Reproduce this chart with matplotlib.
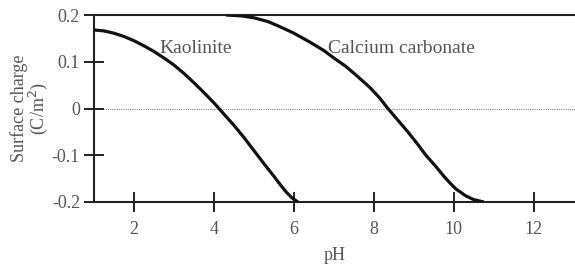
# coding=utf-8
import matplotlib
matplotlib.use('Agg')
import matplotlib.pyplot as plt

plt.rcParams['font.family'] = ['Liberation Serif', 'DejaVu Serif']
plt.rcParams['axes.unicode_minus'] = False

# values
kaolinite_ph = [1.0, 1.25, 1.5, 1.75, 2.0, 2.25, 2.5, 2.75, 3.0, 3.25, 3.5, 3.75,
                4.0, 4.25, 4.5, 4.75, 5.0, 5.25, 5.5, 5.65, 5.8, 5.95, 6.1]
kaolinite_charge = [0.168, 0.166, 0.161, 0.154, 0.145, 0.134, 0.122, 0.108,
                    0.093, 0.075, 0.055, 0.034, 0.012, -0.012, -0.036, -0.062,
                    -0.090, -0.118, -0.145, -0.162, -0.178, -0.191, -0.200]

caco3_ph = [4.3, 4.7, 5.0, 5.35, 5.65, 6.0, 6.4, 6.75, 7.0, 7.3, 7.6, 7.9, 8.15,
            8.35, 8.6, 8.85, 9.1, 9.3, 9.55, 9.75, 9.9, 10.05, 10.3, 10.5, 10.75]
caco3_charge = [0.200, 0.198, 0.194, 0.186, 0.175, 0.161, 0.142, 0.124, 0.108,
                0.090, 0.068, 0.045, 0.022, 0.0, -0.025, -0.050, -0.077, -0.100,
                -0.124, -0.145, -0.159, -0.172, -0.187, -0.195, -0.200]

x_ticks = [2, 4, 6, 8, 10, 12]
y_ticks = [-0.2, -0.1, 0, 0.1, 0.2]
y_tick_labels = ['-0.2', '-0.1', '0', '0.1', '0.2']

text_col = '#555555'

fig = plt.figure(figsize=(5.75, 2.67), dpi=100, facecolor='white')
ax = fig.add_axes([94 / 575, 1 - 202 / 267, 1 - 94 / 575, 187 / 267])

# zero line
ax.axhline(0, color='#888888', lw=0.8, ls=(0, (1, 1)), zorder=1)

ax.plot(kaolinite_ph, kaolinite_charge, color='#111111', lw=2.3,
        solid_capstyle='butt', solid_joinstyle='round', zorder=3)
ax.plot(caco3_ph, caco3_charge, color='#111111', lw=2.3,
        solid_capstyle='butt', solid_joinstyle='round', zorder=3)

ax.text(3.55, 0.128, 'Kaolinite', fontsize=14, color=text_col, ha='center', va='center')
ax.text(8.7, 0.128, 'Calcium carbonate', fontsize=14, color=text_col, ha='center', va='center')

ax.set_xlim(1.0, 13.03)
ax.set_ylim(-0.2, 0.2)

ax.set_xticks(x_ticks)
ax.set_xticklabels([str(t) for t in x_ticks])
ax.set_yticks(y_ticks)
ax.set_yticklabels(y_tick_labels)

ax.tick_params(axis='both', direction='inout', length=14, width=1.4,
               color='#222222', labelsize=13, labelcolor=text_col)
ax.tick_params(axis='y', pad=3)
ax.tick_params(axis='x', pad=7)

for side in ['left', 'bottom', 'top']:
    ax.spines[side].set_linewidth(1.5)
    ax.spines[side].set_color('#222222')
ax.spines['right'].set_visible(False)

ax.set_xlabel('pH', fontsize=13, color=text_col, labelpad=6)
ax.set_ylabel('Surface charge\n(C/m$^2$)', fontsize=13, color=text_col,
              labelpad=1, linespacing=0.95)

fig.savefig('out.png', dpi=100, facecolor='white')
